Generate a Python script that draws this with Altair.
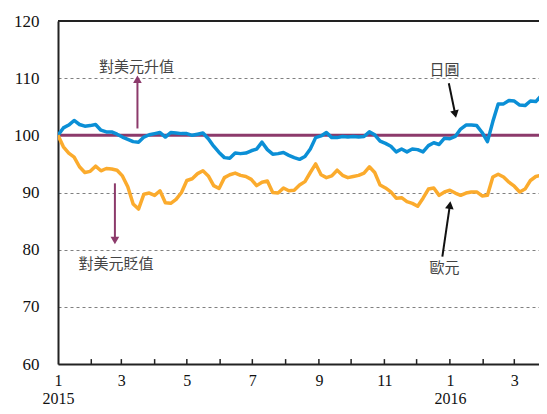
import altair as alt
import pandas as pd

start = "2015-01-01"
n_points = 92
jpy = [100.0, 101.3, 101.8, 102.6, 101.9, 101.6, 101.7, 101.9, 100.9, 100.6,
       100.6, 100.2, 99.7, 99.3, 98.9, 98.8, 99.7, 100.1, 100.3, 100.5,
       99.7, 100.5, 100.4, 100.3, 100.3, 100.0, 100.2, 100.4, 99.4, 98.1,
       97.0, 96.1, 96.0, 96.9, 96.8, 96.9, 97.3, 97.6, 98.8, 97.5,
       96.7, 96.8, 97.0, 96.5, 96.1, 95.8, 96.3, 97.6, 99.6, 99.9,
       100.5, 99.6, 99.6, 99.8, 99.7, 99.8, 99.7, 99.8, 100.6, 100.1,
       99.0, 98.6, 98.1, 97.1, 97.6, 97.1, 97.6, 97.5, 97.1, 98.2,
       98.7, 98.4, 99.5, 99.4, 99.8, 101.1, 101.8, 101.8, 101.7, 100.5,
       98.9, 102.4, 105.5, 105.5, 106.1, 106.0, 105.3, 105.2, 106.0, 105.9,
       106.9, 105.9]
eur = [100.0, 98.0, 96.9, 96.2, 94.5, 93.5, 93.7, 94.6, 93.8, 94.2,
       94.1, 93.9, 92.9, 91.0, 88.0, 87.1, 89.7, 89.9, 89.5, 90.3,
       88.2, 88.1, 88.8, 90.0, 92.1, 92.4, 93.3, 93.8, 92.9, 91.2,
       90.7, 92.6, 93.1, 93.4, 93.0, 92.8, 92.3, 91.2, 91.8, 92.0,
       90.0, 89.9, 90.8, 90.3, 90.4, 91.3, 91.9, 93.5, 95.0, 93.1,
       92.6, 92.9, 93.9, 93.0, 92.6, 92.8, 93.0, 93.4, 94.5, 93.5,
       91.3, 90.8, 90.1, 89.0, 89.1, 88.4, 88.1, 87.6, 89.0, 90.6,
       90.8, 89.5, 90.1, 90.4, 89.9, 89.5, 89.9, 90.1, 90.1, 89.4,
       89.5, 92.7, 93.2, 92.7, 91.8, 91.1, 90.1, 90.6, 92.1, 92.8,
       93.0, 92.4]
series_names = ["日圓", "歐元"]
series_colors = ["#0b8fd6", "#fbab2d"]

tick_months = ["2015-02-01", "2015-03-01", "2015-04-01", "2015-05-01", "2015-06-01",
               "2015-07-01", "2015-08-01", "2015-09-01", "2015-10-01", "2015-11-01",
               "2015-12-01", "2016-01-01", "2016-02-01", "2016-03-01"]

# annotation texts
ann_text = ["對美元升值", "對美元貶值", "日圓", "歐元"]
ann_date = ["2015-03-15", "2015-02-24", "2015-12-27", "2015-12-27"]
ann_val = [112.0, 77.5, 111.4, 76.8]

# arrows: (x, y) tail -> (x2, y2) head
arr_x = ["2015-03-16", "2015-02-23", "2015-12-31", "2015-12-25"]
arr_y = [101.2, 91.6, 109.1, 78.8]
arr_x2 = ["2015-03-16", "2015-02-23", "2016-01-06", "2016-01-01"]
arr_y2 = [109.8, 81.6, 103.7, 87.8]
arr_shape = ["triangle-up", "triangle-down", "triangle-down", "triangle-up"]
arr_angle = [0, 0, 348, 8]
arr_color = ["#8c3a6b", "#8c3a6b", "#111111", "#111111"]

# ---- build tables ----
dates = pd.date_range(start, periods=n_points, freq="5D").strftime("%Y-%m-%dT00:00:00")
df = pd.concat([
    pd.DataFrame({"date": dates, "value": jpy, "series": series_names[0]}),
    pd.DataFrame({"date": dates, "value": eur, "series": series_names[1]}),
])
ticks_df = pd.DataFrame({"date": [d + "T00:00:00" for d in tick_months], "y": 60.0, "y2": 60.86})
ann_df = pd.DataFrame({"date": [d + "T00:00:00" for d in ann_date], "value": ann_val, "text": ann_text})
arr_df = pd.DataFrame({
    "x": [d + "T00:00:00" for d in arr_x], "y": arr_y,
    "x2": [d + "T00:00:00" for d in arr_x2], "y2": arr_y2,
    "shape": arr_shape, "angle": arr_angle, "color": arr_color,
})

x_scale = alt.Scale(domain=[alt.DateTime(year=2015, month=1, date=1),
                            alt.DateTime(year=2016, month=3, date=24)])
y_scale = alt.Scale(domain=[60, 120], nice=False)

label_expr = ("month(datum.value) == 0 ? ['' + (month(datum.value) + 1), '' + year(datum.value)]"
              " : '' + (month(datum.value) + 1)")
x_axis = alt.Axis(
    title=None, grid=False, ticks=False,
    values=[alt.DateTime(year=2015, month=m, date=1) for m in [1, 3, 5, 7, 9, 11]] +
           [alt.DateTime(year=2016, month=m, date=1) for m in [1, 3]],
    labelExpr=label_expr, labelFont="Liberation Serif", labelFontSize=16,
    labelColor="#111", labelPadding=8, labelLineHeight=18, labelBaseline="top",
    domainColor="#222", domainWidth=2, labelFlush=False, labelOverlap=False,
)
y_axis = alt.Axis(
    title=None, values=[60, 70, 80, 90, 100, 110, 120], ticks=False,
    grid=True, gridDash=[3, 3], gridColor="#808080", gridWidth=1,
    labelFont="Liberation Serif", labelFontSize=17, labelColor="#111",
    labelPadding=19, domainColor="#222", domainWidth=2,
)

base_x = alt.X("date:T", scale=x_scale, axis=x_axis)
base_y = alt.Y("value:Q", scale=y_scale, axis=y_axis)

top_border = alt.Chart(pd.DataFrame({"v": [120]})).mark_rule(
    color="#222", strokeWidth=2).encode(y=alt.Y("v:Q", scale=y_scale, axis=y_axis))

par_line = alt.Chart(pd.DataFrame({"v": [100]})).mark_rule(
    color="#8c3a6b", strokeWidth=3).encode(y=alt.Y("v:Q", scale=y_scale))

lines = alt.Chart(df).mark_line(strokeWidth=3.5, clip=True, strokeJoin="round").encode(
    x=base_x, y=base_y,
    color=alt.Color("series:N", scale=alt.Scale(domain=series_names, range=series_colors), legend=None),
    detail="series:N",
)

tick_marks = alt.Chart(ticks_df).mark_rule(color="#222", strokeWidth=1.5).encode(
    x=alt.X("date:T", scale=x_scale), y=alt.Y("y:Q", scale=y_scale), y2="y2:Q")

arrow_shafts = alt.Chart(arr_df).mark_rule(strokeWidth=2).encode(
    x=alt.X("x:T", scale=x_scale), y=alt.Y("y:Q", scale=y_scale),
    x2="x2:T", y2="y2:Q", color=alt.Color("color:N", scale=None))

arrow_heads = alt.Chart(arr_df).mark_point(filled=True, size=75, opacity=1).encode(
    x=alt.X("x2:T", scale=x_scale), y=alt.Y("y2:Q", scale=y_scale),
    shape=alt.Shape("shape:N", scale=None), angle=alt.Angle("angle:Q", scale=None),
    color=alt.Color("color:N", scale=None))

texts = alt.Chart(ann_df).mark_text(
    font="Noto Sans CJK TC", fontSize=15, color="#444", align="center", baseline="middle").encode(
    x=alt.X("date:T", scale=x_scale), y=alt.Y("value:Q", scale=y_scale), text="text:N")

chart = alt.layer(
    top_border, par_line, lines, tick_marks, arrow_shafts, arrow_heads, texts
).properties(
    width=481, height=343,
    autosize=alt.AutoSizeParams(type="none"),
    padding={"left": 50, "top": 13, "right": 0, "bottom": 42},
).configure_view(stroke=None)

chart.save("out.html", embed_options={"renderer": "svg", "actions": False})
